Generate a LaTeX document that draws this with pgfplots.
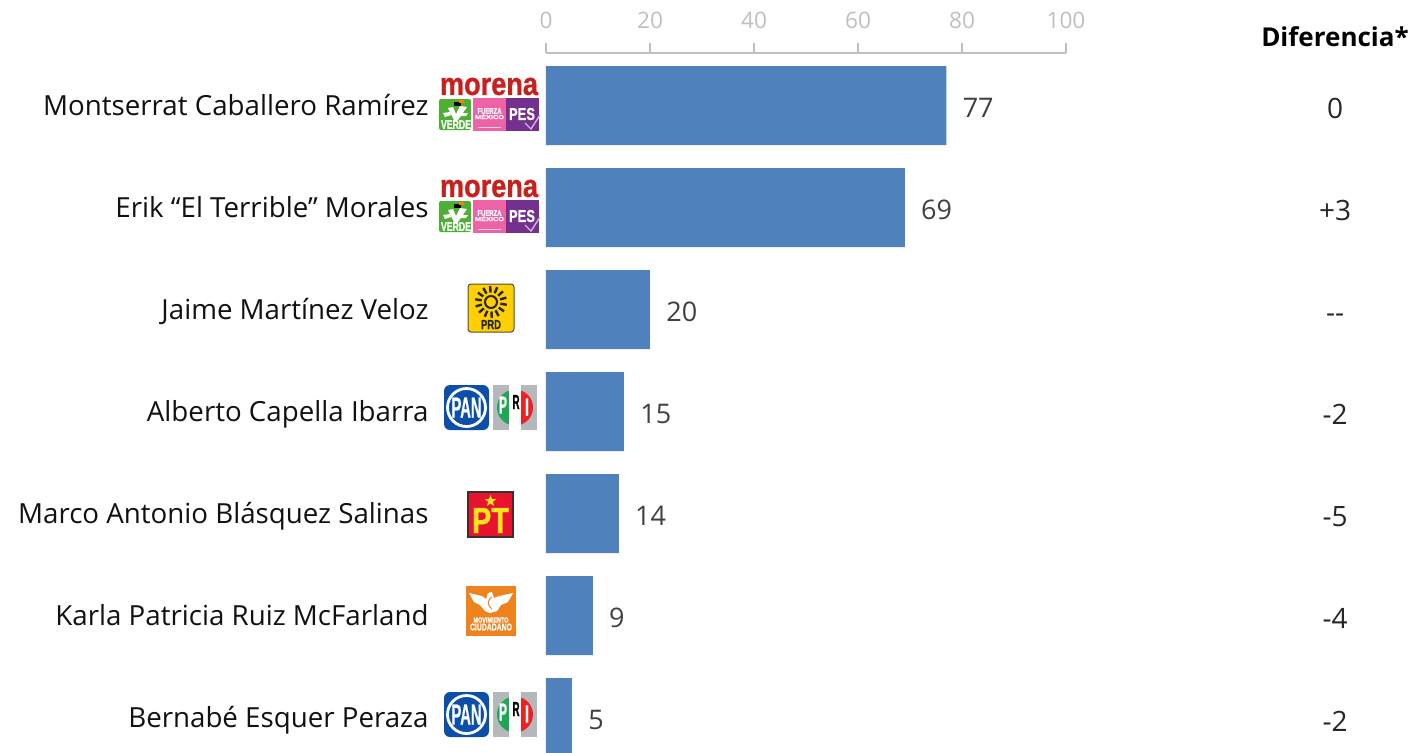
\documentclass[border=0pt]{standalone}
\usepackage{fontspec}
\setmainfont{Open Sans}
\newfontfamily\heavy{Liberation Sans}[BoldFeatures={FakeBold=1}]
\usepackage{graphicx}
\usepackage{pgfplots}
\usetikzlibrary{shapes.geometric}
\pgfplotsset{compat=1.18}
\definecolor{barblue}{HTML}{4F81BD}
\definecolor{txt}{HTML}{404040}
\definecolor{nametxt}{HTML}{111111}
\definecolor{difftxt}{HTML}{262626}
\definecolor{axgrey}{HTML}{BFBFBF}
\definecolor{morenared}{HTML}{C8201C}
\definecolor{vgreen}{HTML}{4DB034}
\definecolor{fpink}{HTML}{EE62A6}
\definecolor{pespurple}{HTML}{74308F}
\definecolor{prdyellow}{HTML}{FFCF00}
\definecolor{panblue}{HTML}{0B4FA8}
\definecolor{prigrey}{HTML}{B5B8BB}
\definecolor{prigreen}{HTML}{1FA652}
\definecolor{prired}{HTML}{ED2024}
\definecolor{ptred}{HTML}{E8132F}
\definecolor{ptyellow}{HTML}{FFE21A}
\definecolor{mcorange}{HTML}{EE821C}
\pgfplotstableread{
v y
77 6
69 5
20 4
15 3
14 2
9 1
5 0
}\bars
\newcommand{\morenalogo}[1]{%
 \begin{scope}[shift={(0,#1)}]
 \node[inner sep=0,text=morenared] at (489,86.5) {\resizebox{49pt}{8.6pt}{\heavy\bfseries morena}};
 \fill[vgreen,rounded corners=1pt] (439,99) rectangle (471,130);
 \fill[white] (448,108)--(453,107)--(456,114)--(460,106)--(467,107)--(458,120)--(454,120)--cycle;
 \fill[white] (443,113)--(450,112)--(451,115)--(445,117)--cycle;
 \fill[white] (461,113)--(468,113)--(466,116)--(460,116)--cycle;
 \fill[black] (454,102) rectangle (461,106);
 \fill[orange] (459,100) rectangle (464,103);
 \node[inner sep=0,text=white] at (456,124.5) {\resizebox{15pt}{4.4pt}{\heavy\bfseries VERDE}};
 \fill[fpink] (473,98) rectangle (506,131);
 \node[inner sep=0,text=white] at (489.5,111) {\resizebox{12pt}{2.8pt}{\heavy\bfseries FUERZA}};
 \node[inner sep=0,text=white] at (489.5,116.5) {\resizebox{14.5pt}{2.6pt}{\heavy\bfseries MÉXICO}};
 \fill[white,opacity=0.7] (478,127) rectangle (501,128.2);
 \fill[pespurple] (506,98) rectangle (539,131);
 \node[inner sep=0,text=white] at (522,114) {\resizebox{13pt}{6pt}{\heavy\bfseries PES}};
 \draw[pespurple!35,line width=0.7pt] (525,123)--(531,129)--(540,115);
 \end{scope}}
\newcommand{\panpri}[1]{%
 \begin{scope}[shift={(0,#1)}]
 \fill[panblue,rounded corners=3pt] (444,385) rectangle (489,430);
 \draw[white,line width=1.4pt] (466.5,407.5) circle [radius=19];
 \node[inner sep=0,text=white] at (466.5,407.5) {\resizebox{15pt}{10pt}{\heavy\bfseries PAN}};
 \fill[prigrey] (493,385) rectangle (509,430);
 \fill[prigrey] (521,385) rectangle (537,430);
 \begin{scope}
  \clip (515,407.5) circle [radius=18];
  \fill[prigreen] (494,385) rectangle (509,430);
  \fill[prired] (521,385) rectangle (537,430);
 \end{scope}
 \fill[white] (509,385) rectangle (521,430);
 \node[inner sep=0,text=white] at (503,405) {\resizebox{4pt}{8.5pt}{\heavy\bfseries P}};
 \node[inner sep=0,text=black] at (516,402) {\resizebox{3.6pt}{7pt}{\heavy\bfseries R}};
 \node[inner sep=0,text=white] at (527,407) {\resizebox{2.2pt}{8.5pt}{\heavy\bfseries I}};
 \end{scope}}
\begin{document}
\begin{tikzpicture}
\path[use as bounding box] (0,0) rectangle (707pt,-376pt);
\begin{axis}[
 at={(273pt,-26.5pt)}, anchor=north west,
 scale only axis, width=260pt, height=349.5pt,
 xmin=0, xmax=100, ymin=-0.338, ymax=6.5147,
 clip=false,
 axis x line=top, axis y line=left,
 axis line style={-,draw=axgrey,line width=0.6pt},
 y axis line style={draw=none},
 xtick={0,20,40,60,80,100},
 tick align=outside,
 x tick style={draw=axgrey,line width=0.6pt},
 major tick length=5pt,
 xticklabel style={text=axgrey,font=\fontsize{11.3}{13}\selectfont,inner sep=0,yshift=7pt},
 /pgf/number format/assume math mode=true,
 ytick={0,1,2,3,4,5,6},
 y tick style={draw=none},
 yticklabels={Bernabé Esquer Peraza,Karla Patricia Ruiz McFarland,Marco Antonio Blásquez Salinas,Alberto Capella Ibarra,Jaime Martínez Veloz,Erik “El Terrible” Morales,Montserrat Caballero Ramírez},
 yticklabel style={text=nametxt,font=\fontsize{13.85}{15}\selectfont,inner sep=0,anchor=east,xshift=-53.5pt,yshift=-1.5pt,text height=10pt,text depth=3pt},
 xbar, bar width=39.5pt, bar shift=0pt,
 nodes near coords,
 nodes near coords style={text=txt,font=\fontsize{13.5}{15}\selectfont,inner sep=0,anchor=west,xshift=8pt,yshift=-2.5pt,text height=10pt,text depth=3pt},
]
\addplot[fill=barblue,draw=none] table[x=v,y=y] {\bars};
\end{axis}
\begin{scope}[x=0.5pt,y=-0.5pt]
 \node[inner sep=0,text=black,font=\fontsize{13}{15}\selectfont\bfseries] at (1335,37) {Diferencia*};
 \foreach \yy/\dd in {108/0,210/+3,312/{-{}-},414/-2,516/-5,618/-4,721/-2}{
  \node[inner sep=0,text=difftxt,font=\fontsize{14}{15}\selectfont,text height=10pt,text depth=0pt] at (1335,\yy) {\dd};
 }
 \morenalogo{0}
 \morenalogo{102}
 % PRD
 \fill[prdyellow,draw=black!70,line width=0.5pt,rounded corners=1.5pt] (468,284) rectangle (514,332);
 \foreach \a in {0,25.7,...,340}{
  \draw[black!85,line width=1.2pt] ({491+9.5*cos(\a+10)},{302+9.5*sin(\a+10)})--({491+16*cos(\a+10)},{302+16*sin(\a+10)});
 }
 \draw[black!85,line width=1pt] (491,302) circle [radius=6];
 \node[inner sep=0,text=black!85] at (491,324.5) {\resizebox{10pt}{4.5pt}{\heavy\bfseries PRD}};
 \panpri{0}
 \panpri{307}
 % PT
 \fill[ptred,draw=black!80,line width=1pt] (468,492) rectangle (513,537);
 \node[inner sep=0,text=ptyellow] at (490.5,520.5) {\resizebox{18.5pt}{12.5pt}{\heavy\bfseries PT}};
 \node[star,star points=5,star point ratio=2.4,fill=ptyellow,inner sep=0,minimum size=6pt] at (490.5,501) {};
 % MC
 \fill[mcorange] (466,586) rectangle (516,636);
 \fill[white] (469,593)--(482,596)--(486,599)--(488,593)--(492,592)--(494,598)--(499,596)--(513,593)--(508,602)--(501,605)--(497,611)--(490,613)--(485,611)--(480,605)--(474,602)--cycle;
 \draw[mcorange,line width=0.5pt] (492,597) .. controls (486,601) and (488,606) .. (492,609);
 \node[inner sep=0,text=white] at (491,620) {\resizebox{17.5pt}{2.6pt}{\heavy\bfseries MOVIMIENTO}};
 \node[inner sep=0,text=white] at (491,627) {\resizebox{21pt}{3.5pt}{\heavy\bfseries CIUDADANO}};
\end{scope}
\end{tikzpicture}
\end{document}
